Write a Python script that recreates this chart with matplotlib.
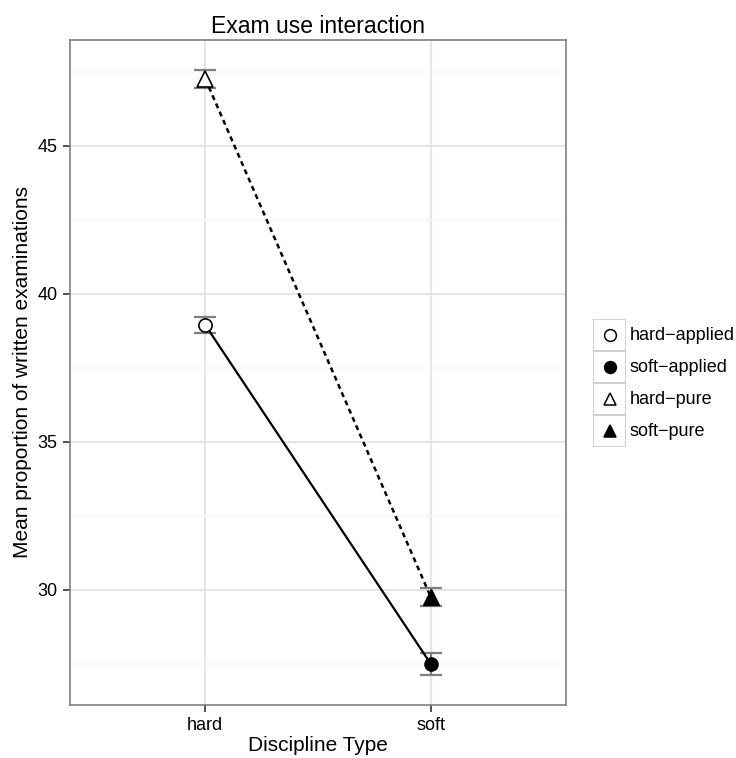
import matplotlib
matplotlib.use("Agg")
import matplotlib.pyplot as plt
from matplotlib.patches import Rectangle
from matplotlib.ticker import MultipleLocator

plt.rcParams['font.family'] = ['Liberation Sans', 'DejaVu Sans']

disciplines = ["hard", "soft"]
applied_mean = [38.95, 27.5]
applied_se = [0.28, 0.38]
pure_mean = [47.27, 29.76]
pure_se = [0.3, 0.32]
legend_labels = ["hard\u2212applied", "soft\u2212applied", "hard\u2212pure", "soft\u2212pure"]

fig = plt.figure(figsize=(7.36, 7.58), dpi=100)
ax = fig.add_axes([70/736, 53/758, 496/736, 665/758])

x = list(range(1, len(disciplines) + 1))

# error bars first, then lines, then points
for means, ses in [(applied_mean, applied_se), (pure_mean, pure_se)]:
    ax.errorbar(x, means, yerr=ses, fmt="none", ecolor="#7f7f7f", elinewidth=1.6,
                capsize=8, capthick=1.6, zorder=3)

ax.plot(x, applied_mean, color="black", lw=1.6, zorder=4)
ax.plot(x, pure_mean, color="black", lw=1.8, ls=(0, (2, 1.6)), zorder=4)

ax.plot(x[0], applied_mean[0], marker="o", ms=9.5, mfc="white", mec="black", mew=1.2, zorder=5)
ax.plot(x[1], applied_mean[1], marker="o", ms=9.5, mfc="black", mec="black", zorder=5)
ax.plot(x[0], pure_mean[0], marker="^", ms=12, mfc="white", mec="black", mew=1.2, zorder=5)
ax.plot(x[1], pure_mean[1], marker="^", ms=12, mfc="black", mec="black", zorder=5)

ax.set_xlim(0.4, 2.6)
ax.set_ylim(26.11, 48.58)
ax.set_xticks(x)
ax.set_xticklabels(disciplines)
ax.yaxis.set_major_locator(MultipleLocator(5))
ax.yaxis.set_minor_locator(MultipleLocator(2.5))
ax.set_axisbelow(True)
ax.grid(which="major", color="#e5e5e5", lw=1.6)
ax.grid(which="minor", axis="y", color="#f7f7f7", lw=1.2)
ax.tick_params(which="minor", length=0)
ax.tick_params(which="major", length=5, width=1.2, color="#333333", labelsize=13, pad=4)
for s in ax.spines.values():
    s.set_color("#7f7f7f")
    s.set_linewidth(1.2)

ax.set_title("Exam use interaction", fontsize=16.5, pad=5)
ax.set_xlabel("Discipline Type", fontsize=15, labelpad=1)
ax.set_ylabel("Mean proportion of written examinations", fontsize=15, labelpad=4)

# legend as a small axes with boxed keys
lax = fig.add_axes([593/736, (758-447)/758, 33/736, 128/758])
lax.set_xlim(0, 1)
lax.set_ylim(0, 4)
lax.axis("off")
styles = [("o", "white"), ("o", "black"), ("^", "white"), ("^", "black")]
for i, (lab, (mk, fc)) in enumerate(zip(legend_labels, styles)):
    yc = 3.5 - i
    lax.add_patch(Rectangle((0, yc - 0.5), 1, 1, fc="white", ec="#cccccc", lw=1.2))
    lax.plot(0.5, yc, marker=mk, ms=8.5, mfc=fc, mec="black", mew=1.1)
    lax.text(1.1, yc, lab, va="center", ha="left", fontsize=13)

fig.savefig("out.png", dpi=100)
